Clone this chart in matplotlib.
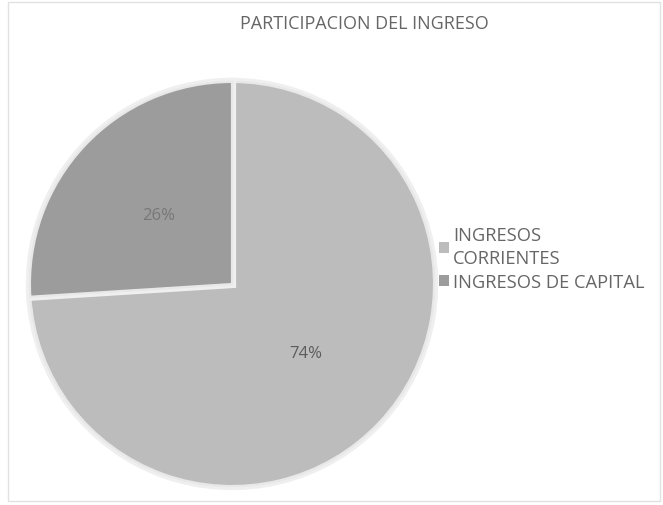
import matplotlib
matplotlib.use('Agg')
import matplotlib.pyplot as plt
import matplotlib.patheffects as pe
from matplotlib.patches import Rectangle

# datos del grafico
categorias = ['INGRESOS\nCORRIENTES', 'INGRESOS DE CAPITAL']
participacion = [74, 26]
colores = ['#bcbcbc', '#9c9c9c']
titulo = 'PARTICIPACION DEL INGRESO'

plt.rcParams['font.family'] = ['Open Sans', 'DejaVu Sans']

fig = plt.figure(figsize=(6.63, 5.06), dpi=100)
ax = fig.add_axes([0, 0, 1, 1])

# borde tenue del area del grafico
ax.add_patch(Rectangle((8, 4), 652, 499, fill=False, edgecolor='#e2e2e2', lw=1))

wedges, texts, autotexts = ax.pie(
    participacion, colors=colores, startangle=90, counterclock=False,
    explode=[0, 0.04], center=(232, 221), radius=202, frame=True,
    autopct='%1.0f%%', pctdistance=0.5,
    wedgeprops=dict(edgecolor='#e8e8e8', linewidth=1.5),
    textprops=dict(fontsize=12))
ax.set_xlim(0, 663)
ax.set_ylim(0, 506)
ax.set_aspect('equal')
ax.axis('off')

autotexts[0].set_color('#5c5c5c')
autotexts[1].set_color('#777777')

fig.text(364 / 663, 1 - 24 / 506, titulo, ha='center', va='center',
         fontsize=13, color='#666666')

leg = ax.legend(wedges, categorias, loc='upper left',
                bbox_to_anchor=(430 / 663, 1 - 218 / 506),
                frameon=False, fontsize=13.2, handlelength=0.55,
                handleheight=0.55, handletextpad=0.2, labelspacing=0.3,
                borderpad=0)
for t in leg.get_texts():
    t.set_color('#666666')
    t.set_linespacing(1.35)
for h in leg.legend_handles:
    h.set_linewidth(0)

# halo suave alrededor de las porciones
for w in wedges:
    w.set_path_effects([pe.withStroke(linewidth=6, foreground='#efefef'), pe.Normal()])

fig.savefig('out.png', dpi=100, facecolor='white')
